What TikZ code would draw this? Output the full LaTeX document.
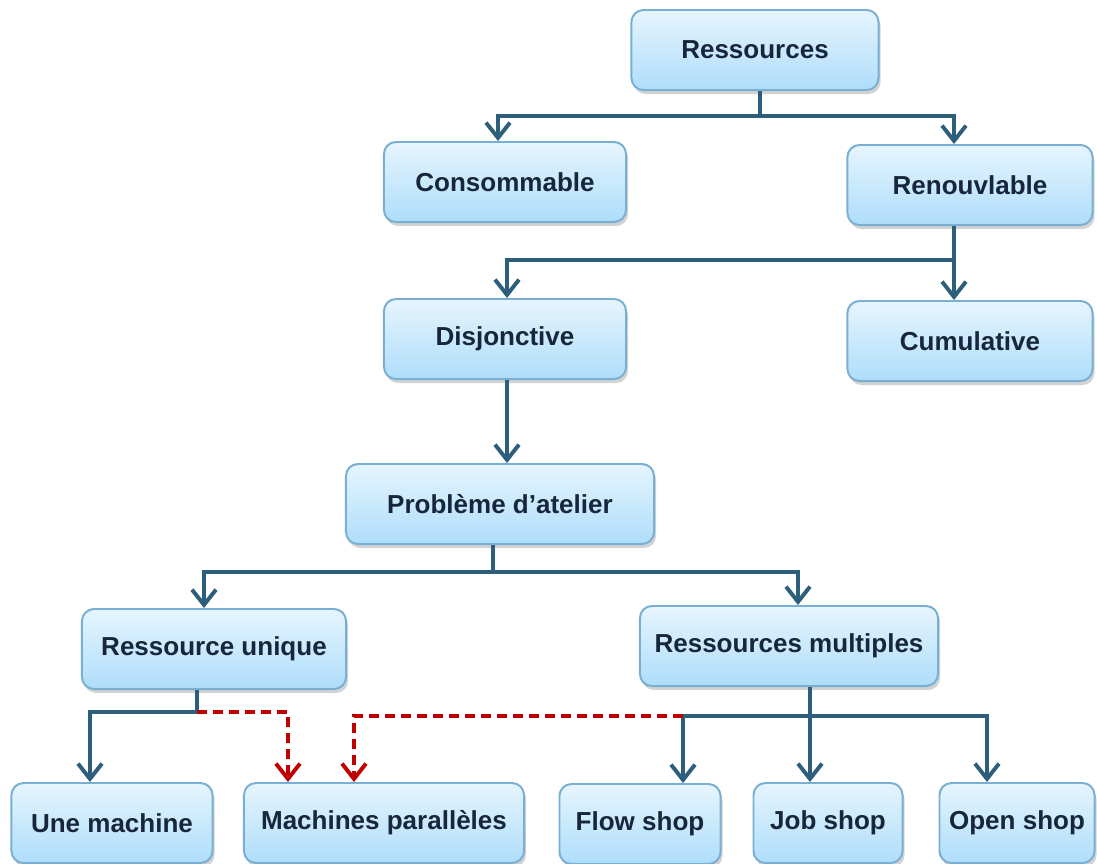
\documentclass[tikz,border=0pt]{standalone}
\usepackage{fontspec}
\setmainfont{Liberation Sans}
\usetikzlibrary{arrows.meta,shadows}

\definecolor{trait}{RGB}{45,94,124}
\definecolor{rouge}{RGB}{192,0,0}
\definecolor{bord}{RGB}{120,175,210}
\definecolor{haut}{RGB}{230,245,254}
\definecolor{bas}{RGB}{174,221,250}
\definecolor{texte}{RGB}{24,38,60}

\tikzset{
  boite/.style={draw=bord, line width=1.4pt, rounded corners=0.3cm,
    top color=haut, bottom color=bas, minimum height=2cm, text=texte,
    font=\fontsize{18.5}{22}\selectfont\bfseries,
    drop shadow={opacity=0.35, shadow xshift=0.5mm, shadow yshift=-1mm}},
  ligne/.style={draw=trait, line width=2.8pt},
  lien/.style={ligne, -{Straight Barb[length=3.8mm,width=6mm]}},
  tirets/.style={draw=rouge, line width=2.8pt, dash pattern=on 2.5mm off 1.5mm,
    -{Straight Barb[length=3.8mm,width=6mm]}}
}

\begin{document}
\begin{tikzpicture}[x=0.025cm,y=-0.025cm]
	\useasboundingbox (0,0) rectangle (1097,863);
	% les boites
	\node (Re) at (755,50)  [boite, minimum width=6.175cm] {Ressources};
	\node (Co) at (505,182) [boite, minimum width=6.05cm]  {Consommable};
	\node (Rn) at (970,185) [boite, minimum width=6.125cm] {Renouvlable};
	\node (Dj) at (505,339) [boite, minimum width=6.05cm]  {Disjonctive};
	\node (Cu) at (970,341) [boite, minimum width=6.125cm] {Cumulative};
	\node (Pa) at (500,504) [boite, minimum width=7.7cm]   {Problème d’atelier};
	\node (Ru) at (214,649) [boite, minimum width=6.6cm]   {Ressource unique};
	\node (Rm) at (789,646) [boite, minimum width=7.45cm]  {Ressources multiples};
	\node (Um) at (112,823) [boite, minimum width=5.025cm] {Une machine};
	\node (Mp) at (384,823) [boite, minimum width=7cm]     {Machines parallèles};
	\node (Fs) at (640,824) [boite, minimum width=4.025cm] {Flow shop};
	\node (Js) at (828,823) [boite, minimum width=3.725cm] {Job shop};
	\node (Os) at (1017,823) [boite, minimum width=3.875cm] {Open shop};

	% les branchements
	\coordinate (h1) at (760,116);
	\coordinate (h2) at (954,260);
	\coordinate (h3) at (493,572);
	\coordinate (h4) at (197,712);
	\coordinate (h5) at (810,716);
	\coordinate (h6) at (683,716);

	\draw[ligne] (h1 |- Re.south) -- (h1);
	\draw[lien] (h1) -| ([xshift=-0.175cm]Co.north);
	\draw[lien] (h1) -| ([xshift=-0.4cm]Rn.north);

	\draw[lien] ([xshift=-0.4cm]Rn.south) -- ([xshift=-0.4cm]Cu.north);
	\draw[lien] (h2) -| ([xshift=0.05cm]Dj.north);

	\draw[lien] ([xshift=0.05cm]Dj.south) -- ([xshift=0.05cm]Dj.south |- Pa.north);

	\draw[ligne] (h3 |- Pa.south) -- (h3);
	\draw[lien] (h3) -| ([xshift=-0.25cm]Ru.north);
	\draw[lien] (h3) -| ([xshift=0.225cm]Rm.north);

	\draw[ligne] (h4 |- Ru.south) -- (h4);
	\draw[lien] (h4) -| ([xshift=-0.55cm]Um.north);
	\draw[tirets] (h4) -| ([xshift=-2.4cm]Mp.north);

	\draw[ligne] (h5 |- Rm.south) -- (h5);
	\draw[lien] (h5) -| ([xshift=1.075cm]Fs.north);
	\draw[lien] (h5) -- ([xshift=-0.45cm]Js.north);
	\draw[lien] (h5) -| ([xshift=-0.75cm]Os.north);
	\draw[tirets] (h6) -| ([xshift=-0.75cm]Mp.north);
\end{tikzpicture}
\end{document}
